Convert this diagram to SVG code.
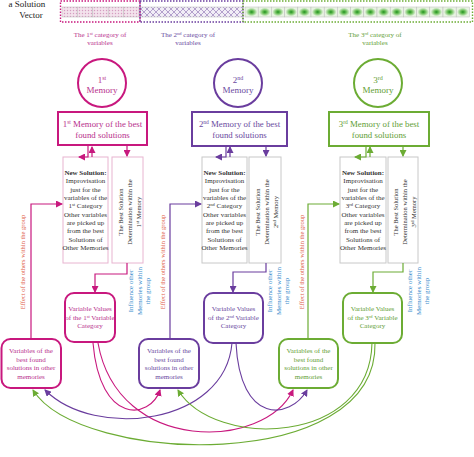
<svg xmlns="http://www.w3.org/2000/svg" width="474" height="457" viewBox="0 0 474 457">
<style>
text{font-family:"Liberation Serif","Times New Roman",serif}
.mg{stroke:#c8187e}.pu{stroke:#6a3d9e}.gr{stroke:#6cac34}
.tmg{fill:#b8308c}.tpu{fill:#6a4aa0}.tgr{fill:#5f9e35}
.big{fill:#fff;stroke-width:2}
.sub{fill:#fff;stroke-width:1}
.c{text-anchor:middle}
.blk{fill:#333;font-size:7px}
.det{fill:#333;font-size:6.5px}
.eff{fill:#e0604a;font-size:6.5px;text-anchor:middle}
.inf{fill:#3a8ccc;font-size:7px;text-anchor:middle}
.ln{fill:none;stroke-width:1.2}
.cv{fill:none;stroke-width:1.1}
.bx{font-size:7px}
.ttl{font-size:8.8px}
</style>
<defs>
<pattern id="pd" width="3" height="3" patternUnits="userSpaceOnUse"><rect width="3" height="3" fill="#f3e2ec"/><circle cx="1.5" cy="1.5" r="0.7" fill="#d49cc0"/></pattern>
<pattern id="xh" width="6" height="6" patternUnits="userSpaceOnUse"><rect width="6" height="6" fill="#f1edf6"/><path d="M0,0L6,6M6,0L0,6" stroke="#8a6cb0" stroke-width="0.6"/></pattern>
<radialGradient id="gd"><stop offset="0" stop-color="#1e8f1e"/><stop offset="0.35" stop-color="#6cc05a"/><stop offset="0.85" stop-color="#e8f3e2"/></radialGradient>
<marker id="am" markerUnits="userSpaceOnUse" markerWidth="7" markerHeight="7" refX="6" refY="3.5" orient="auto"><path d="M0,0L7,3.5L0,7z" fill="#c8187e"/></marker>
<marker id="ap" markerUnits="userSpaceOnUse" markerWidth="7" markerHeight="7" refX="6" refY="3.5" orient="auto"><path d="M0,0L7,3.5L0,7z" fill="#6a3d9e"/></marker>
<marker id="ag" markerUnits="userSpaceOnUse" markerWidth="7" markerHeight="7" refX="6" refY="3.5" orient="auto"><path d="M0,0L7,3.5L0,7z" fill="#6cac34"/></marker>
</defs>
<rect width="474" height="457" fill="#fff"/>

<g id="vector">
<text x="27" y="7" class="c" font-size="9" fill="#222">a Solution</text>
<text x="31" y="18" class="c" font-size="9" fill="#222">Vector</text>
<g stroke="#bbb" stroke-width="0.5">
<rect x="62" y="7" width="15.4" height="10" fill="url(#pd)"/>
<rect x="77.4" y="7" width="15.4" height="10" fill="url(#pd)"/>
<rect x="92.8" y="7" width="15.4" height="10" fill="url(#pd)"/>
<rect x="108.2" y="7" width="15.4" height="10" fill="url(#pd)"/>
<rect x="123.6" y="7" width="15.4" height="10" fill="url(#pd)"/>
<rect x="140" y="7" width="103" height="10" fill="url(#xh)"/>
<rect x="245" y="7" width="13.2" height="10" fill="url(#gd)"/>
<rect x="258.2" y="7" width="13.2" height="10" fill="url(#gd)"/>
<rect x="271.4" y="7" width="13.2" height="10" fill="url(#gd)"/>
<rect x="284.6" y="7" width="13.2" height="10" fill="url(#gd)"/>
<rect x="297.8" y="7" width="13.2" height="10" fill="url(#gd)"/>
<rect x="311" y="7" width="13.2" height="10" fill="url(#gd)"/>
<rect x="324.2" y="7" width="13.2" height="10" fill="url(#gd)"/>
<rect x="337.4" y="7" width="13.2" height="10" fill="url(#gd)"/>
<rect x="350.6" y="7" width="13.2" height="10" fill="url(#gd)"/>
<rect x="363.8" y="7" width="13.2" height="10" fill="url(#gd)"/>
<rect x="377" y="7" width="13.2" height="10" fill="url(#gd)"/>
<rect x="390.2" y="7" width="13.2" height="10" fill="url(#gd)"/>
<rect x="403.4" y="7" width="13.2" height="10" fill="url(#gd)"/>
<rect x="416.6" y="7" width="13.2" height="10" fill="url(#gd)"/>
<rect x="429.8" y="7" width="13.2" height="10" fill="url(#gd)"/>
<rect x="443" y="7" width="13.2" height="10" fill="url(#gd)"/>
<rect x="456.2" y="7" width="13.2" height="10" fill="url(#gd)"/>
</g>
<g fill="none" stroke-width="1.4" stroke-dasharray="1.5,1.5">
<rect x="60.5" y="1" width="79.5" height="21" class="mg"/>
<rect x="140" y="1" width="103" height="21" class="pu"/>
<rect x="243" y="1" width="229.5" height="21" class="gr"/>
</g>
<text class="c tmg" font-size="7"><tspan x="100" y="37">The 1<tspan font-size="4.5" baseline-shift="super">st</tspan> category of</tspan><tspan x="100" y="45">variables</tspan></text>
<text class="c tpu" font-size="7"><tspan x="188" y="37">The 2<tspan font-size="4.5" baseline-shift="super">nd</tspan> category of</tspan><tspan x="188" y="45">variables</tspan></text>
<text class="c tgr" font-size="7"><tspan x="375" y="37">The 3<tspan font-size="4.5" baseline-shift="super">rd</tspan> category of</tspan><tspan x="375" y="45">variables</tspan></text>
</g>

<g id="memory1">
<circle cx="102" cy="83" r="24" class="big mg"/>
<text class="c tmg" font-size="9"><tspan x="102" y="83">1<tspan font-size="6" baseline-shift="super">st</tspan></tspan><tspan x="102" y="93">Memory</tspan></text>
</g>
<g id="memory2">
<circle cx="238" cy="83" r="24" class="big pu"/>
<text class="c tpu" font-size="9"><tspan x="238" y="83">2<tspan font-size="6" baseline-shift="super">nd</tspan></tspan><tspan x="238" y="93">Memory</tspan></text>
</g>
<g id="memory3">
<circle cx="378" cy="83" r="24" class="big gr"/>
<text class="c tgr" font-size="9"><tspan x="378" y="83">3<tspan font-size="6" baseline-shift="super">rd</tspan></tspan><tspan x="378" y="93">Memory</tspan></text>
</g>

<g id="best1">
<rect x="58" y="112" width="89" height="33" class="big mg"/>
<text class="c tmg ttl"><tspan x="102.5" y="127">1<tspan font-size="5.5" baseline-shift="super">st</tspan> Memory of the best</tspan><tspan x="102.5" y="137.5">found solutions</tspan></text>
</g>
<g id="best2">
<rect x="192" y="112" width="95" height="34" class="big pu"/>
<text class="c tpu ttl"><tspan x="239.5" y="127">2<tspan font-size="5.5" baseline-shift="super">nd</tspan> Memory of the best</tspan><tspan x="239.5" y="137.5">found solutions</tspan></text>
</g>
<g id="best3">
<rect x="329" y="112" width="100" height="34" class="big gr"/>
<text class="c tgr ttl"><tspan x="379" y="127">3<tspan font-size="5.5" baseline-shift="super">rd</tspan> Memory of the best</tspan><tspan x="379" y="137.5">found solutions</tspan></text>
</g>

<g id="newsol1">
<rect x="63" y="157" width="45" height="106" class="sub" stroke="#e8b4d0"/>
<text class="c blk"><tspan x="85.5" y="175" font-weight="bold">New Solution:</tspan><tspan x="85.5" y="183">Improvisation</tspan><tspan x="85.5" y="191.5">just for the</tspan><tspan x="85.5" y="200">variables of the</tspan><tspan x="85.5" y="208">1<tspan font-size="4.5" baseline-shift="super">st</tspan> Category</tspan><tspan x="85.5" y="216.5">Other variables</tspan><tspan x="85.5" y="225">are picked up</tspan><tspan x="85.5" y="233">from the best</tspan><tspan x="85.5" y="241.5">Solutions of</tspan><tspan x="85.5" y="250">Other Memories</tspan></text>
</g>
<g id="det1">
<rect x="112" y="157" width="31" height="106" class="sub" stroke="#e8b4d0"/>
<text class="c det" transform="translate(127.5,212) rotate(-90)"><tspan x="0" y="-5">The Best Solution</tspan><tspan x="0" y="4">Determination within the</tspan><tspan x="0" y="13">1<tspan font-size="4.5" baseline-shift="super">st</tspan> Memory</tspan></text>
</g>
<g id="newsol2">
<rect x="202" y="157" width="45" height="106" class="sub" stroke="#c8c8c8"/>
<text class="c blk"><tspan x="224.5" y="175" font-weight="bold">New Solution:</tspan><tspan x="224.5" y="183">Improvisation</tspan><tspan x="224.5" y="191.5">just for the</tspan><tspan x="224.5" y="200">variables of the</tspan><tspan x="224.5" y="208">2<tspan font-size="4.5" baseline-shift="super">nd</tspan> Category</tspan><tspan x="224.5" y="216.5">Other variables</tspan><tspan x="224.5" y="225">are picked up</tspan><tspan x="224.5" y="233">from the best</tspan><tspan x="224.5" y="241.5">Solutions of</tspan><tspan x="224.5" y="250">Other Memories</tspan></text>
</g>
<g id="det2">
<rect x="249" y="157" width="32" height="106" class="sub" stroke="#c8c8c8"/>
<text class="c det" transform="translate(265,212) rotate(-90)"><tspan x="0" y="-5">The Best Solution</tspan><tspan x="0" y="4">Determination within the</tspan><tspan x="0" y="13">2<tspan font-size="4.5" baseline-shift="super">nd</tspan> Memory</tspan></text>
</g>
<g id="newsol3">
<rect x="340" y="157" width="46" height="106" class="sub" stroke="#c8c8c8"/>
<text class="c blk"><tspan x="363" y="175" font-weight="bold">New Solution:</tspan><tspan x="363" y="183">Improvisation</tspan><tspan x="363" y="191.5">just for the</tspan><tspan x="363" y="200">variables of the</tspan><tspan x="363" y="208">3<tspan font-size="4.5" baseline-shift="super">rd</tspan> Category</tspan><tspan x="363" y="216.5">Other variables</tspan><tspan x="363" y="225">are picked up</tspan><tspan x="363" y="233">from the best</tspan><tspan x="363" y="241.5">Solutions of</tspan><tspan x="363" y="250">Other Memories</tspan></text>
</g>
<g id="det3">
<rect x="388" y="157" width="30" height="106" class="sub" stroke="#c8c8c8"/>
<text class="c det" transform="translate(403,212) rotate(-90)"><tspan x="0" y="-5">The Best Solution</tspan><tspan x="0" y="4">Determination within the</tspan><tspan x="0" y="13">3<tspan font-size="4.5" baseline-shift="super">rd</tspan> Memory</tspan></text>
</g>

<g id="values1">
<rect x="65" y="293" width="50" height="49" rx="9" class="big mg"/>
<text class="c tmg bx"><tspan x="90" y="311">Variable Values</tspan><tspan x="90" y="319.5">of the 1<tspan font-size="4.5" baseline-shift="super">st</tspan> Variable</tspan><tspan x="90" y="328">Category</tspan></text>
</g>
<g id="values2">
<rect x="204" y="293" width="59" height="50" rx="9" class="big pu"/>
<text class="c tpu bx"><tspan x="233.5" y="311">Variable Values</tspan><tspan x="233.5" y="319.5">of the 2<tspan font-size="4.5" baseline-shift="super">nd</tspan> Variable</tspan><tspan x="233.5" y="328">Category</tspan></text>
</g>
<g id="values3">
<rect x="343" y="293" width="59" height="50" rx="9" class="big gr"/>
<text class="c tgr bx"><tspan x="372.5" y="311">Variable Values</tspan><tspan x="372.5" y="319.5">of the 3<tspan font-size="4.5" baseline-shift="super">rd</tspan> Variable</tspan><tspan x="372.5" y="328">Category</tspan></text>
</g>

<g id="others1">
<rect x="1.5" y="339" width="59.5" height="49" rx="9" class="big mg"/>
<text class="c tmg bx"><tspan x="31" y="353">Variables of the</tspan><tspan x="31" y="361.5">best found</tspan><tspan x="31" y="370">solutions in other</tspan><tspan x="31" y="378.5">memories</tspan></text>
</g>
<g id="others2">
<rect x="139" y="339" width="60" height="49" rx="9" class="big pu"/>
<text class="c tpu bx"><tspan x="169" y="353">Variables of the</tspan><tspan x="169" y="361.5">best found</tspan><tspan x="169" y="370">solutions in other</tspan><tspan x="169" y="378.5">memories</tspan></text>
</g>
<g id="others3">
<rect x="279" y="339" width="59" height="49" rx="9" class="big gr"/>
<text class="c tgr bx"><tspan x="308.5" y="353">Variables of the</tspan><tspan x="308.5" y="361.5">best found</tspan><tspan x="308.5" y="370">solutions in other</tspan><tspan x="308.5" y="378.5">memories</tspan></text>
</g>

<g id="labels">
<text class="eff" transform="translate(25,262) rotate(-90)">Effect of the others within the group</text>
<text class="eff" transform="translate(165,262) rotate(-90)">Effect of the others within the group</text>
<text class="eff" transform="translate(304,262) rotate(-90)">Effect of the others within the group</text>
<text class="inf" transform="translate(139,291) rotate(-90)"><tspan x="0" y="-6">Influence other</tspan><tspan x="0" y="2.5">Memories within</tspan><tspan x="0" y="11">the group</tspan></text>
<text class="inf" transform="translate(278,291) rotate(-90)"><tspan x="0" y="-6">Influence other</tspan><tspan x="0" y="2.5">Memories within</tspan><tspan x="0" y="11">the group</tspan></text>
<text class="inf" transform="translate(418,291) rotate(-90)"><tspan x="0" y="-6">Influence other</tspan><tspan x="0" y="2.5">Memories within</tspan><tspan x="0" y="11">the group</tspan></text>
</g>

<g id="connectors">
<path class="ln mg" d="M92,157V147" marker-end="url(#am)"/>
<path class="ln mg" d="M88,146V157H79" marker-end="url(#am)"/>
<path class="ln mg" d="M127,146V156" marker-end="url(#am)"/>
<path class="ln mg" d="M127,263V274H95V292" marker-end="url(#am)"/>
<path class="ln mg" d="M31,339V204H62" marker-end="url(#am)"/>

<path class="ln pu" d="M230,157V147" marker-end="url(#ap)"/>
<path class="ln pu" d="M226,146V157H216" marker-end="url(#ap)"/>
<path class="ln pu" d="M266,146V156" marker-end="url(#ap)"/>
<path class="ln pu" d="M266,263V272H233V292" marker-end="url(#ap)"/>
<path class="ln pu" d="M170,339V204H201" marker-end="url(#ap)"/>

<path class="ln gr" d="M370,157V147" marker-end="url(#ag)"/>
<path class="ln gr" d="M366,146V157H355" marker-end="url(#ag)"/>
<path class="ln gr" d="M403,146V156" marker-end="url(#ag)"/>
<path class="ln gr" d="M403,263V272H373V292" marker-end="url(#ag)"/>
<path class="ln gr" d="M308,339V204H339" marker-end="url(#ag)"/>

<path class="cv mg" d="M93,343C100,425 150,420 160,390" marker-end="url(#am)"/>
<path class="cv mg" d="M98,343C118,455 265,450 293,390" marker-end="url(#am)"/>
<path class="cv pu" d="M232,343C225,425 95,440 45,390" marker-end="url(#ap)"/>
<path class="cv pu" d="M236,343C240,425 290,420 307,390" marker-end="url(#ap)"/>
<path class="cv gr" d="M372,343C370,445 215,450 178,390" marker-end="url(#ag)"/>
<path class="cv gr" d="M375,343C378,475 80,465 33,390" marker-end="url(#ag)"/>
</g>
</svg>
